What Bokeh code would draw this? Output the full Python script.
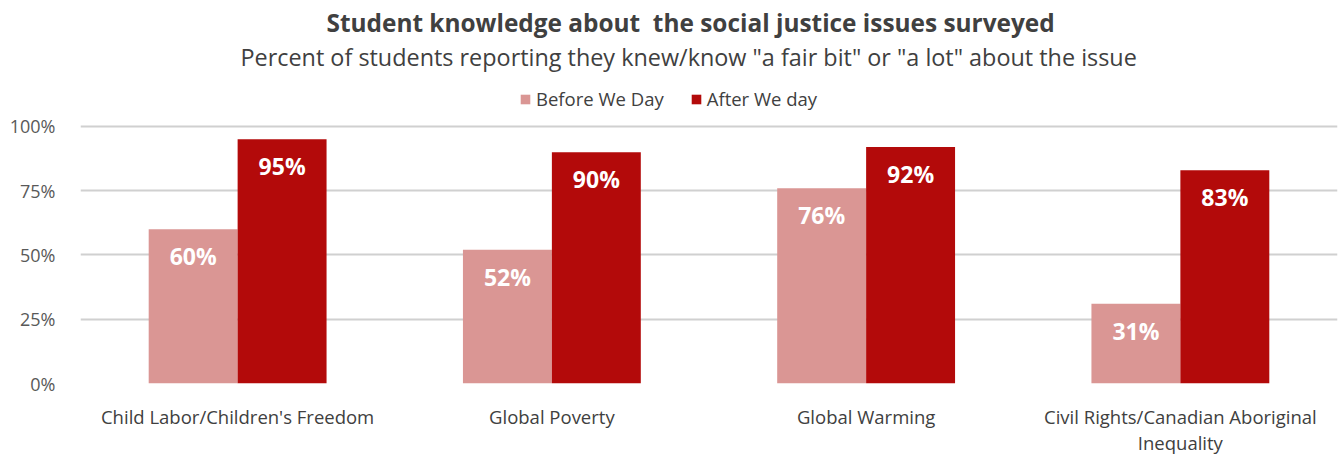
from bokeh.plotting import figure
from bokeh.models import (ColumnDataSource, FactorRange, Legend, LegendItem, Title,
                          LabelSet, NumeralTickFormatter, FixedTicker, Range1d)
from bokeh.core.properties import value
from bokeh.transform import dodge
from bokeh.embed import file_html
from bokeh.resources import INLINE

categories = ["Child Labor/Children's Freedom", "Global Poverty", "Global Warming",
              "Civil Rights/Canadian Aboriginal\nInequality"]
before = [0.60, 0.52, 0.76, 0.31]
after = [0.95, 0.90, 0.92, 0.83]
series = ["Before We Day", "After We day"]
yticks = [0, 0.25, 0.5, 0.75, 1.0]
title_text = "Student knowledge about \u00a0the social justice issues surveyed"
subtitle_text = 'Percent of students reporting they knew/know "a fair bit" or "a lot" about the issue'

FONT = "Open Sans"
C_BEFORE = "#DA9694"
C_AFTER = "#B30A0A"
TXT = "#404040"

src = ColumnDataSource(dict(
    cat=categories, before=before, after=after,
    before_lbl=[f"{round(v*100)}%" for v in before],
    after_lbl=[f"{round(v*100)}%" for v in after],
))

W, H = 1338, 457
p = figure(x_range=FactorRange(*categories), y_range=Range1d(0, 1.2023),
           width=W, height=H, output_backend="svg", toolbar_location=None,
           min_border_left=80, min_border_right=1, min_border_top=74,
           min_border_bottom=0)
p.outline_line_color = None
p.background_fill_color = "white"
p.border_fill_color = "white"

bw = 0.283
r1 = p.vbar(x=dodge("cat", -bw/2, range=p.x_range), top="before", width=bw, source=src,
            fill_color=C_BEFORE, line_color=None)
r2 = p.vbar(x=dodge("cat", bw/2, range=p.x_range), top="after", width=bw, source=src,
            fill_color=C_AFTER, line_color=None)

for col, off in (("before", -bw/2), ("after", bw/2)):
    ls = LabelSet(x=dodge("cat", off, range=p.x_range), y=col, text=col + "_lbl", source=src,
                  y_offset=-27, text_align="center", text_baseline="middle",
                  text_color="white", text_font=value(FONT), text_font_style="bold",
                  text_font_size="23px")
    p.add_layout(ls)

# axes
p.yaxis.ticker = FixedTicker(ticks=yticks)
p.yaxis.formatter = NumeralTickFormatter(format="0%")
p.yaxis.axis_line_color = None
p.yaxis.major_tick_line_color = None
p.yaxis.minor_tick_line_color = None
p.yaxis.major_tick_out = 0
p.yaxis.major_label_text_font = FONT
p.yaxis.major_label_text_font_size = "18px"
p.yaxis.major_label_text_color = "#595959"
p.yaxis.major_label_standoff = 25

p.xaxis.axis_line_color = None
p.xaxis.major_tick_line_color = None
p.xaxis.major_tick_out = 0
p.xaxis.major_tick_in = 0
p.xaxis.major_label_text_font = FONT
p.xaxis.major_label_text_font_size = "18.5px"
p.xaxis.major_label_text_color = TXT
p.xaxis.major_label_text_line_height = 1.05
p.xaxis.major_label_standoff = 20

p.xgrid.grid_line_color = None
p.ygrid.grid_line_color = "#D0D0D0"
p.ygrid.grid_line_width = 2
p.ygrid.ticker = FixedTicker(ticks=yticks)

legend = Legend(items=[LegendItem(label=series[0], renderers=[r1]),
                       LegendItem(label=series[1], renderers=[r2])],
                orientation="horizontal", location=(439, 272),
                label_text_font=FONT, label_text_font_size="18.5px",
                label_text_color=TXT, glyph_width=12, glyph_height=12,
                spacing=26, padding=0, margin=0, border_line_color=None,
                background_fill_alpha=0, label_standoff=5)
p.add_layout(legend, "center")

p.add_layout(Title(text=subtitle_text, align="left", offset=160, text_font=FONT,
                   text_font_size="23.4px", text_font_style="normal",
                   vertical_align="top",
                   text_color=TXT, standoff=0), "above")
p.add_layout(Title(text=title_text, align="left", offset=246, text_font=FONT,
                   text_font_size="24.4px", text_font_style="bold",
                   text_color=TXT, standoff=4), "above")

open("out.html", "w").write(file_html(p, INLINE))
